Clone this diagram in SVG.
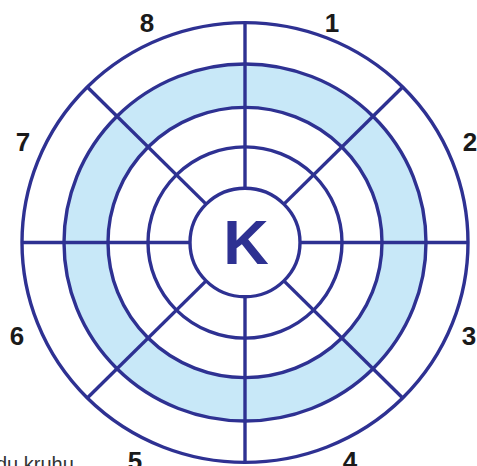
<svg xmlns="http://www.w3.org/2000/svg" width="477" height="466" viewBox="0 0 477 466">
  <style>
    .ring { fill: none; stroke: #2e3192; stroke-width: 3.4; }
    .spoke { stroke: #2e3192; stroke-width: 3.4; }
    .num { font-family: "Liberation Sans", Arial, sans-serif; font-weight: bold; font-size: 26px; fill: #1a1a1a; text-anchor: middle; }
  </style>
  <rect width="477" height="466" fill="#ffffff"/>
  <g id="wheel" transform="translate(245,242.5) scale(1,0.986)">
    <g id="band">
      <path d="M -181 0 A 181 181 0 1 0 181 0 A 181 181 0 1 0 -181 0 Z M -137 0 A 137 137 0 1 1 137 0 A 137 137 0 1 1 -137 0 Z" fill="#c8e8f8" fill-rule="evenodd"/>
    </g>
    <g id="connectors">
      <line class="spoke" x1="0" y1="-55" x2="0" y2="-223"/>
      <line class="spoke" x1="0" y1="55" x2="0" y2="223"/>
      <line class="spoke" x1="55" y1="0" x2="223" y2="0"/>
      <line class="spoke" x1="-55" y1="0" x2="-223" y2="0"/>
      <line class="spoke" x1="38.9" y1="-38.9" x2="157.7" y2="-157.7"/>
      <line class="spoke" x1="38.9" y1="38.9" x2="157.7" y2="157.7"/>
      <line class="spoke" x1="-38.9" y1="38.9" x2="-157.7" y2="157.7"/>
      <line class="spoke" x1="-38.9" y1="-38.9" x2="-157.7" y2="-157.7"/>
    </g>
    <g id="rings">
      <circle class="ring" r="223"/>
      <circle class="ring" r="181"/>
      <circle class="ring" r="137"/>
      <circle class="ring" r="97"/>
    </g>
    <g id="center">
      <circle class="ring" r="55"/>
    </g>
  </g>
  <text x="246" y="264" font-family="Liberation Sans, Arial, sans-serif" font-weight="bold" font-size="63" fill="#2e3192" text-anchor="middle">K</text>
  <g id="labels">
    <text class="num" x="332" y="32">1</text>
    <text class="num" x="470" y="151">2</text>
    <text class="num" x="469" y="345">3</text>
    <text class="num" x="350" y="470">4</text>
    <text class="num" x="135" y="470">5</text>
    <text class="num" x="17" y="345">6</text>
    <text class="num" x="23" y="151">7</text>
    <text class="num" x="147" y="32">8</text>
  </g>
  <text x="-4" y="471" font-family="Liberation Sans, Arial, sans-serif" font-size="20" fill="#333333">du kruhu</text>
</svg>
